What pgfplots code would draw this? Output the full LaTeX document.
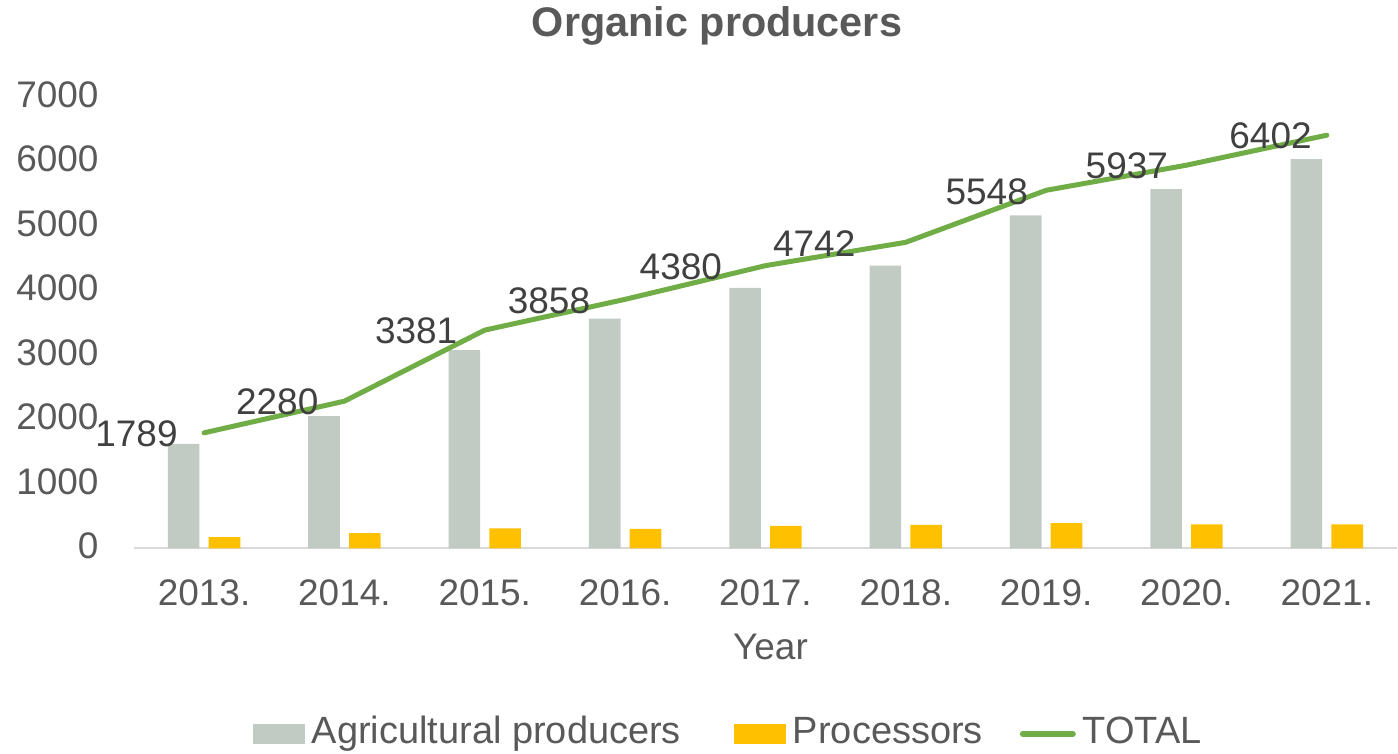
\documentclass[border=0pt]{standalone}
\usepackage{fontspec}
\setmainfont{Liberation Sans}
\usepackage{pgfplots}
\pgfplotsset{compat=1.18}
\usepackage{pgfplotstable}

\definecolor{agri}{HTML}{C1CBC3}
\definecolor{proc}{HTML}{FFC000}
\definecolor{tot}{HTML}{70AD47}
\definecolor{txt}{HTML}{595959}
\definecolor{lbl}{HTML}{404040}
\definecolor{axln}{HTML}{D9D9D9}

\pgfplotsset{
    barlegend/.style={legend image code/.code={\fill[##1] (0pt,-5pt) rectangle (26pt,5pt);}},
    linelegend/.style={legend image code/.code={\draw[##1, line width=3pt, line cap=round] (1.5pt,0pt) -- (26.5pt,0pt);}},
}

% producers per year (bars)
\pgfplotstableread{
x agri proc
0 1618 171
1 2047 233
2 3071 310
3 3559 299
4 4034 346
5 4381 361
6 5160 388
7 5565 372
8 6030 372
}\bars

% total line, gap = how far left of the point its label sits (pt)
\pgfplotstableread{
x total gap label
0 1789 12 1789
1 2280 11.8 2280
2 3381 12.5 3381
3 3858 16.25 3858
4 4380 20.5 4380
5 4742 24 4742
6 5548 7.9 5548
7 5937 8 5937
8 6402 6.35 6402
}\totals

\begin{document}
\begin{tikzpicture}
\begin{axis}[
    scale only axis,
    width=632pt, height=226pt,
    xmin=-0.5, xmax=8.5,
    ymin=0, ymax=7000,
    clip=false,
    axis x line*=bottom,
    axis y line*=left,
    x axis line style={-, draw=axln, line width=1pt},
    y axis line style={draw=none},
    major tick length=0pt,
    xtick={0,...,8},
    xticklabels={2013.,2014.,2015.,2016.,2017.,2018.,2019.,2020.,2021.},
    ytick={0,1000,...,7000},
    /pgf/number format/assume math mode=true,
    /pgf/number format/set thousands separator={},
    ticklabel style={font=\fontsize{18.5}{22}\selectfont, text=txt},
    xticklabel style={anchor=base, inner sep=0pt, yshift=-28.5pt},
    yticklabel style={anchor=east, inner sep=0pt, xshift=-17.5pt, yshift=1pt},
    legend columns=3,
    legend style={at={(0.0941,0)}, anchor=west, yshift=-92.85pt,
        draw=none, inner sep=0pt, outer sep=0pt,
        font=\fontsize{19}{22}\selectfont, text=txt,
        nodes={inner sep=0pt, text height=10pt, text depth=0pt},
        /tikz/every odd column/.append style={column sep=3.5pt},
        /tikz/column 2/.append style={column sep=26.5pt},
        /tikz/column 4/.append style={column sep=18.5pt},
        /tikz/column 5/.append style={column sep=2pt}},
]
\addplot[ybar, bar width=15.8pt, bar shift=-10.2pt, fill=agri, draw=none, barlegend]
    table[x=x, y=agri] {\bars};
\addlegendentry{Agricultural producers}
\addplot[ybar, bar width=15.8pt, bar shift=10.2pt, fill=proc, draw=none, barlegend]
    table[x=x, y=proc] {\bars};
\addlegendentry{Processors}
\addplot[tot, line width=2.5pt, line cap=round, line join=round, mark=none,
    point meta=explicit symbolic,
    visualization depends on={\thisrow{gap} \as \gap},
    nodes near coords,
    every node near coord/.append style={anchor=east, inner sep=0pt,
        xshift={-\gap pt}, yshift=-0.5pt, text=lbl,
        font=\fontsize{18.5}{22}\selectfont},
    linelegend]
    table[x=x, y=total, meta=label] {\totals};
\addlegendentry{TOTAL}
\end{axis}
% titles
\node[anchor=base, text=txt, font=\fontsize{20.7}{24}\selectfont\bfseries] at (291.75pt,256pt) {Organic producers};
\node[anchor=base, text=txt, font=\fontsize{18.5}{22}\selectfont] at (318.5pt,-55.85pt) {Year};
% frame of the whole chart
\path (-67pt,-102.5pt) rectangle (632pt,272.5pt);
\end{tikzpicture}
\end{document}
